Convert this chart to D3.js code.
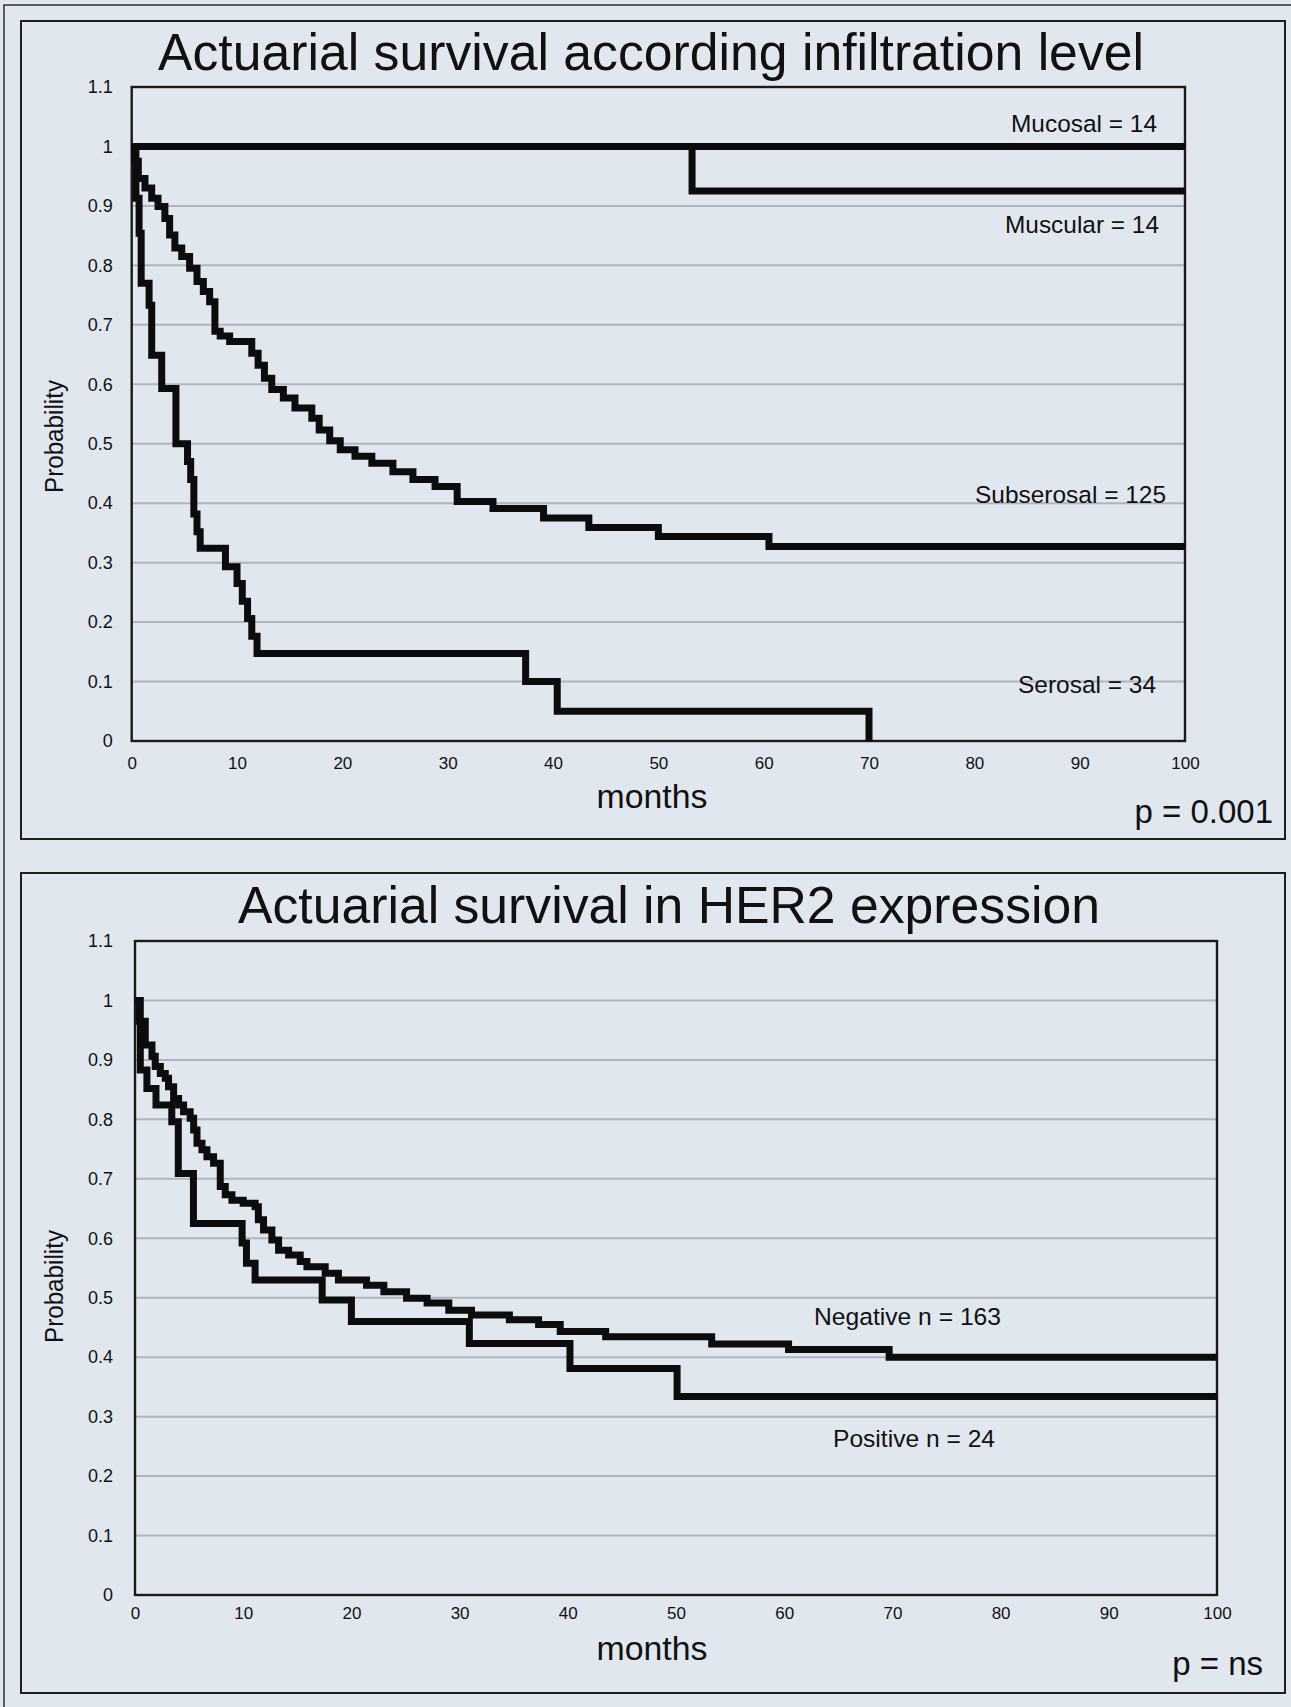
<!DOCTYPE html>
<html>
<head>
<meta charset="utf-8">
<script src="https://cdn.jsdelivr.net/npm/d3@7"></script>
<style>
  body { margin: 0; background: #e1e7ef; }
  svg { display: block; }
  text { font-family: "Liberation Sans", Arial, sans-serif; fill: #111; }
</style>
</head>
<body>
<svg width="1291" height="1707"></svg>
<script>
// values
const xTicks = [0, 10, 20, 30, 40, 50, 60, 70, 80, 90, 100];
const yTicks = [0, 0.1, 0.2, 0.3, 0.4, 0.5, 0.6, 0.7, 0.8, 0.9, 1, 1.1];

// top chart : infiltration level
const infiltrationLabels = ['Mucosal = 14', 'Muscular = 14', 'Subserosal = 125', 'Serosal = 34'];

const mucosalMonths = [0, 100];
const mucosalSurv   = [1, 1];

const muscularMonths = [0, 53.2, 100];
const muscularSurv   = [1, 0.925, 0.925];

const subserosalMonths = [0, 0.3, 0.63, 1.26, 1.9, 2.5, 3.15, 3.6, 4.1, 4.75, 5.5, 6.2, 6.8, 7.4, 7.9,
  8.4, 9.3, 11.4, 12.0, 12.6, 13.3, 14.4, 15.5, 17.1, 17.8, 18.8, 19.8, 21.2, 22.8, 24.8, 26.7,
  28.8, 30.9, 34.3, 39.1, 43.4, 50.0, 60.5, 100];
const subserosalSurv = [1, 0.975, 0.946, 0.93, 0.913, 0.899, 0.879, 0.851, 0.829, 0.815, 0.795, 0.773, 0.756, 0.739, 0.689,
  0.681, 0.672, 0.652, 0.632, 0.61, 0.591, 0.577, 0.56, 0.543, 0.523, 0.505, 0.49, 0.479, 0.467, 0.453, 0.44,
  0.428, 0.403, 0.391, 0.375, 0.359, 0.344, 0.327, 0.327];

const serosalMonths = [0, 0.4, 0.7, 0.9, 1.65, 1.9, 2.85, 4.2, 5.3, 5.6, 5.9, 6.2, 6.5, 8.9, 10.0, 10.5,
  11.0, 11.4, 11.9, 37.4, 40.4, 70];
const serosalSurv = [1, 0.913, 0.854, 0.77, 0.733, 0.649, 0.593, 0.5, 0.47, 0.44, 0.382, 0.352, 0.324, 0.293, 0.265, 0.235,
  0.206, 0.176, 0.147, 0.1, 0.05, 0];

// bottom chart : HER2 expression
const her2Labels = ['Negative n = 163', 'Positive n = 24'];

const negativeMonths = [0, 0.4, 0.95, 1.57, 1.87, 2.34, 2.8, 3.1, 3.57, 4.03, 4.49, 5.1, 5.42, 5.73, 6.19, 6.65,
  7.26, 7.88, 8.34, 8.96, 10.0, 11.1, 11.4, 11.88, 12.65, 13.27, 14.2, 15.27, 15.89, 17.58, 18.8,
  21.4, 23.0, 25.1, 27.0, 29.0, 31.1, 34.6, 37.3, 39.3, 43.5, 53.3, 60.4, 69.7, 100];
const negativeSurv = [1, 0.965, 0.925, 0.906, 0.889, 0.877, 0.869, 0.855, 0.835, 0.824, 0.813, 0.802, 0.782, 0.76, 0.749, 0.737,
  0.726, 0.687, 0.673, 0.664, 0.659, 0.653, 0.631, 0.614, 0.597, 0.58, 0.572, 0.561, 0.552, 0.541, 0.53,
  0.521, 0.51, 0.499, 0.491, 0.479, 0.471, 0.463, 0.455, 0.443, 0.4345, 0.422, 0.413, 0.40, 0.40];

const positiveMonths = [0, 0.49, 1.1, 1.94, 3.4, 4.0, 5.4, 9.9, 10.3, 11.1, 17.3, 20.0, 30.9, 40.2, 50.1, 100];
const positiveSurv   = [1, 0.883, 0.852, 0.824, 0.796, 0.709, 0.625, 0.592, 0.558, 0.53, 0.496, 0.46, 0.423, 0.381, 0.334, 0.334];

const zip = (ms, ps) => ms.map((m, i) => ({ m: m, p: ps[i] }));

// layout
const panels = [
  {
    title: 'Actuarial survival according infiltration level', titleX: 651, titleY: 70, titleLen: 986,
    box: { x: 21, y: 21, w: 1264, h: 818 },
    plot: { l: 131.7, r: 1185, t: 87, b: 741 },
    xPad: 16, yPad: 19, monthsY: 808, probY: 436.5,
    pText: 'p = 0.001', pX: 1273, pY: 823,
    series: [zip(mucosalMonths, mucosalSurv), zip(muscularMonths, muscularSurv),
             zip(subserosalMonths, subserosalSurv), zip(serosalMonths, serosalSurv)],
    labels: infiltrationLabels,
    labelPos: [[1157, 131.7, 146], [1159, 233, 154], [1166, 502.7, 191], [1156, 693, 138]]
  },
  {
    title: 'Actuarial survival in HER2 expression', titleX: 669, titleY: 923, titleLen: 862,
    box: { x: 21, y: 873, w: 1264, h: 820 },
    plot: { l: 135, r: 1217, t: 941, b: 1595 },
    xPad: 12, yPad: 22, monthsY: 1660, probY: 1286.5,
    pText: 'p = ns', pX: 1263, pY: 1675,
    series: [zip(negativeMonths, negativeSurv), zip(positiveMonths, positiveSurv)],
    labels: her2Labels,
    labelPos: [[1001, 1325, 187], [995, 1447, 162]]
  }
];

const svg = d3.select('svg');

svg.append('rect')
  .attr('width', 1291).attr('height', 1707)
  .attr('fill', '#e1e7ef');

// outer frame, only its left and top edges are inside the picture
svg.append('rect')
  .attr('x', 4).attr('y', 5)
  .attr('width', 1320).attr('height', 1740)
  .attr('fill', 'none')
  .attr('stroke', '#3a3a3a')
  .attr('stroke-width', 1.6);

const yFormat = d => String(+d.toFixed(1));

panels.forEach(pn => {
  const g = svg.append('g');

  g.append('rect')
    .attr('x', pn.box.x).attr('y', pn.box.y)
    .attr('width', pn.box.w).attr('height', pn.box.h)
    .attr('fill', 'none')
    .attr('stroke', '#1e1e1e')
    .attr('stroke-width', 2);

  const x = d3.scaleLinear().domain([0, 100]).range([pn.plot.l, pn.plot.r]);
  const y = d3.scaleLinear().domain([0, 1.1]).range([pn.plot.b, pn.plot.t]);

  // grid lines
  g.append('g')
    .selectAll('line')
    .data(yTicks.filter(t => t > 0 && t < 1.05))
    .enter()
    .append('line')
    .attr('x1', pn.plot.l).attr('x2', pn.plot.r)
    .attr('y1', d => y(d)).attr('y2', d => y(d))
    .attr('stroke', '#b0b5bd')
    .attr('stroke-width', 2);

  // axes
  const yAxis = g.append('g')
    .attr('transform', `translate(${pn.plot.l},0)`)
    .call(d3.axisLeft(y).tickValues(yTicks).tickSize(0).tickPadding(pn.yPad).tickFormat(yFormat));
  yAxis.select('.domain').remove();
  yAxis.selectAll('text')
    .style('font-size', '18px')
    .style('font-family', '"Liberation Sans", Arial, sans-serif')
    .attr('fill', '#222');

  const xAxis = g.append('g')
    .attr('transform', `translate(0,${pn.plot.b})`)
    .call(d3.axisBottom(x).tickValues(xTicks).tickSize(0).tickPadding(pn.xPad));
  xAxis.select('.domain').remove();
  xAxis.selectAll('text')
    .style('font-size', '17px')
    .style('font-family', '"Liberation Sans", Arial, sans-serif')
    .attr('fill', '#222');

  // plot frame
  g.append('rect')
    .attr('x', pn.plot.l).attr('y', pn.plot.t)
    .attr('width', pn.plot.r - pn.plot.l).attr('height', pn.plot.b - pn.plot.t)
    .attr('fill', 'none')
    .attr('stroke', '#1a1a1a')
    .attr('stroke-width', 2.4);

  // survival curves
  const line = d3.line()
    .x(d => x(d.m))
    .y(d => y(d.p))
    .curve(d3.curveStepAfter);

  g.append('g')
    .selectAll('path')
    .data(pn.series)
    .enter()
    .append('path')
    .attr('d', line)
    .attr('fill', 'none')
    .attr('stroke', '#0c0c0e')
    .attr('stroke-width', 7)
    .attr('stroke-linejoin', 'miter');

  // curve labels
  g.append('g')
    .selectAll('text')
    .data(pn.labels)
    .enter()
    .append('text')
    .text(d => d)
    .attr('x', (d, i) => pn.labelPos[i][0])
    .attr('y', (d, i) => pn.labelPos[i][1])
    .attr('text-anchor', 'end')
    .attr('textLength', (d, i) => pn.labelPos[i][2])
    .attr('lengthAdjust', 'spacingAndGlyphs')
    .style('font-size', '24.5px');

  // titles and axis names
  g.append('text')
    .text(pn.title)
    .attr('x', pn.titleX).attr('y', pn.titleY)
    .attr('text-anchor', 'middle')
    .attr('textLength', pn.titleLen)
    .attr('lengthAdjust', 'spacingAndGlyphs')
    .style('font-size', '52px');

  g.append('text')
    .text('months')
    .attr('x', 652).attr('y', pn.monthsY)
    .attr('text-anchor', 'middle')
    .attr('textLength', 111)
    .attr('lengthAdjust', 'spacingAndGlyphs')
    .style('font-size', '33px');

  g.append('text')
    .text('Probability')
    .attr('transform', `translate(63,${pn.probY}) rotate(-90)`)
    .attr('text-anchor', 'middle')
    .attr('textLength', 113)
    .attr('lengthAdjust', 'spacingAndGlyphs')
    .style('font-size', '26px');

  g.append('text')
    .text(pn.pText)
    .attr('x', pn.pX).attr('y', pn.pY)
    .attr('text-anchor', 'end')
    .style('font-size', '33px');
});
</script>
</body>
</html>
